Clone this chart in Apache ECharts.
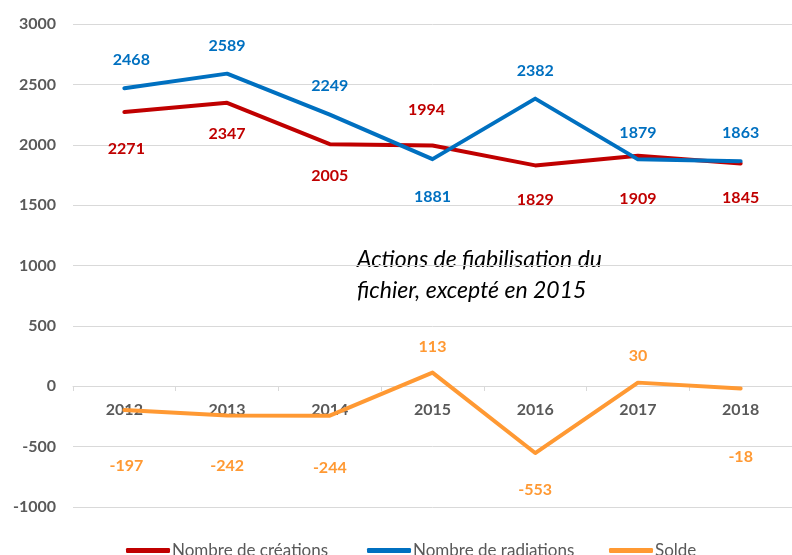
<!DOCTYPE html>
<html>
<head>
<meta charset="utf-8">
<script src="https://cdn.jsdelivr.net/npm/echarts@6/dist/echarts.min.js"></script>
<style>
  html, body { margin: 0; padding: 0; background: #fff; }
  #chart { width: 792px; height: 555px; }
</style>
</head>
<body>
<div id="chart"></div>
<script>
// data
var years = ['2012', '2013', '2014', '2015', '2016', '2017', '2018']
var creations = [2271, 2347, 2005, 1994, 1829, 1909, 1845]
var radiations = [2468, 2589, 2249, 1881, 2382, 1879, 1863]
var solde = [-197, -242, -244, 113, -553, 30, -18]

// label placement per point: [position, distance, dx]
var creaLbl = [['bottom', 28, 2], ['bottom', 22, 0], ['bottom', 23, 0], ['top', 27, -6], ['bottom', 25, 0], ['bottom', 34, 0], ['bottom', 25, 0]]
var radLbl = [['top', 19, 7], ['top', 19, 0], ['top', 20, 0], ['bottom', 29, 0], ['top', 19, 0], ['top', 18, 0], ['top', 19, 0]]
var soldeLbl = [['bottom', 47, 2], ['bottom', 41, 0], ['bottom', 43, 0], ['top', 17, 0], ['bottom', 28, 0], ['top', 18, 0], ['bottom', 59, 0]]

var FONT = 'Lato'
var names = ['Nombre de créations', 'Nombre de radiations', 'Solde']
var colors = ['#C00000', '#0070C0', '#FF9933']

function points (values, layout, color) {
  return values.map(function (v, i) {
    return {
      value: v,
      label: {
        show: true,
        position: layout[i][0],
        distance: layout[i][1],
        offset: [layout[i][2], 0],
        color: color,
        fontFamily: FONT,
        fontWeight: 'bold',
        fontSize: 16
      }
    }
  })
}

function lineSeries (name, values, layout, color) {
  return {
    name: name,
    type: 'line',
    symbol: 'circle',
    symbolSize: 2,
    showSymbol: true,
    lineStyle: { width: 4, color: color, cap: 'round', join: 'round' },
    itemStyle: { color: color },
    data: points(values, layout, color)
  }
}

function legendAt (i, left) {
  return {
    top: 537,
    left: left,
    itemWidth: 44,
    itemHeight: 5,
    itemGap: 0,
    icon: 'roundRect',
    itemStyle: { color: colors[i] },
    textStyle: { color: '#595959', fontSize: 17, fontFamily: FONT, padding: [0, 0, 0, -3] },
    data: [names[i]]
  }
}

var chart = echarts.init(document.getElementById('chart'))
chart.setOption({
  animation: false,
  textStyle: { fontFamily: FONT },
  grid: { left: 73, right: 0, top: 24, bottom: 48, containLabel: false },
  legend: [legendAt(0, 121), legendAt(1, 362), legendAt(2, 604)],
  xAxis: {
    type: 'category',
    data: years,
    position: 'bottom',
    offset: -121,
    axisLine: { onZero: false, lineStyle: { color: '#d9d9d9', width: 1 } },
    axisTick: { show: true, length: 5, lineStyle: { color: '#d9d9d9' } },
    axisLabel: { color: '#595959', fontWeight: 'bold', fontSize: 16, fontFamily: FONT, margin: 16 },
    z: 1
  },
  yAxis: {
    type: 'value',
    min: -1000,
    max: 3000,
    interval: 500,
    axisLine: { show: false },
    axisTick: { show: false },
    splitLine: { lineStyle: { color: '#d9d9d9', width: 1 } },
    axisLabel: {
      color: '#595959', fontWeight: 'bold', fontSize: 16, fontFamily: FONT, margin: 17,
      formatter: function (v) { return String(v) }
    }
  },
  graphic: [{
    type: 'text',
    left: 357,
    top: 244,
    style: {
      text: 'Actions de fiabilisation du\nfichier, excepté en 2015',
      font: 'italic 23px Lato',
      fill: '#000',
      lineHeight: 31
    }
  }],
  series: [
    lineSeries(names[0], creations, creaLbl, colors[0]),
    lineSeries(names[1], radiations, radLbl, colors[1]),
    lineSeries(names[2], solde, soldeLbl, colors[2])
  ]
})
</script>
</body>
</html>
